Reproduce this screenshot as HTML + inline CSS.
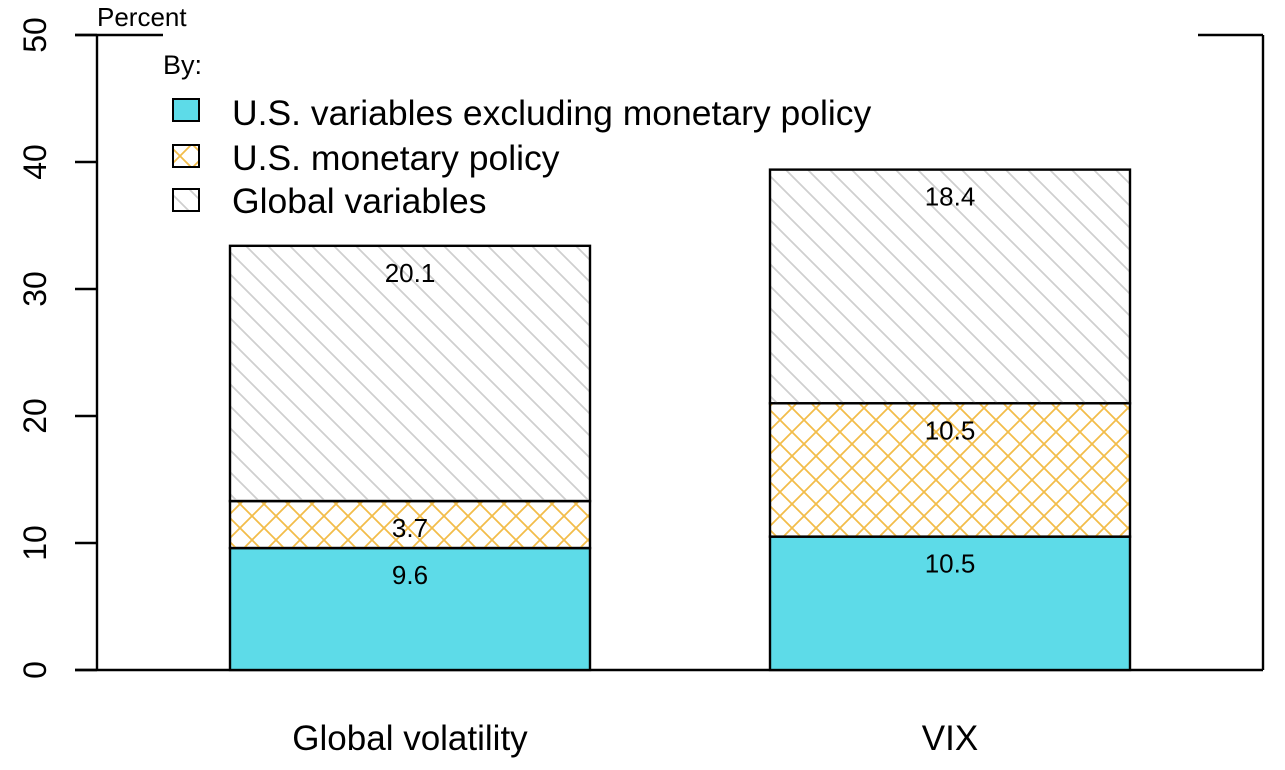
<!DOCTYPE html>
<html><head><meta charset="utf-8"><style>
body{margin:0;background:#fff}
svg{display:block;font-family:"Liberation Sans",Arial,sans-serif}
</style></head><body>
<svg id="c" width="1285" height="770">
<defs>
<pattern id="hx" patternUnits="userSpaceOnUse" width="24" height="24">
<path d="M0,0L24,24M24,0L0,24" stroke="#f2bd4a" stroke-width="1.8"/>
</pattern>
<pattern id="hd" patternUnits="userSpaceOnUse" width="22" height="22">
<path d="M-11,11L11,33M0,0L22,22M11,-11L33,11" stroke="#cfcfcf" stroke-width="1.8"/>
</pattern>
</defs>
<g id="axes"></g>
<g id="bars"></g>
<g id="legend">
<text x="163" y="74" font-size="27">By:</text>
<rect x="173" y="99" width="26" height="22" fill="#5ddbe8" stroke="#000" stroke-width="2"/>
<text x="232" y="125" font-size="35.5">U.S. variables excluding monetary policy</text>
<rect x="173" y="145" width="26" height="22" fill="url(#hx)" stroke="#000" stroke-width="2"/>
<text x="232" y="170" font-size="35.5">U.S. monetary policy</text>
<rect x="173" y="189" width="26" height="22" fill="url(#hd)" stroke="#000" stroke-width="2"/>
<text x="232" y="213" font-size="35.5">Global variables</text>
</g>
</svg>
<script>
const categories=["Global volatility","VIX"];
const usExMp=[9.6,10.5];
const usMp=[3.7,10.5];
const globalVars=[20.1,18.4];
const yTicks=[0,10,20,30,40,50];
const NS="http://www.w3.org/2000/svg";
const y=v=>670-v*12.7;
const barX=i=>230+i*540, barW=360;
function mk(p,t,a){const e=document.createElementNS(NS,t);for(const k in a)e.setAttribute(k,a[k]);p.appendChild(e);return e;}
const ax=document.getElementById('axes'), bg=document.getElementById('bars');
let l=mk(ax,'line',{x1:97,y1:35,x2:97,y2:670,stroke:'#000','stroke-width':2.4});


l=mk(ax,'line',{x1:1263,y1:35,x2:1263,y2:670,stroke:'#000','stroke-width':2.4});


l=mk(ax,'line',{x1:75,y1:670,x2:1263,y2:670,stroke:'#000','stroke-width':2.4});


l=mk(ax,'line',{x1:75,y1:35,x2:163,y2:35,stroke:'#000','stroke-width':2.4});


l=mk(ax,'line',{x1:1198,y1:35,x2:1263,y2:35,stroke:'#000','stroke-width':2.4});


yTicks.forEach(v=>{
  const t=mk(ax,'line',{x1:75,y1:y(v),x2:97,y2:y(v),stroke:'#000','stroke-width':2.4});
  
  
  const tx=mk(ax,'text',{x:0,y:0,'font-size':32,'text-anchor':'middle',transform:`translate(46,${y(v)}) rotate(-90)`});
  tx.textContent=v;
  
  
});
const pt=mk(ax,'text',{x:97,y:26,'font-size':26});
pt.textContent='Percent';


const series=[[usExMp,'#5ddbe8','us-ex-mp'],[usMp,'url(#hx)','us-mp'],[globalVars,'url(#hd)','global']];
categories.forEach((c,i)=>{
  let base=0;
  series.forEach(([arr,fill,nm])=>{
    const v=arr[i], top=base+v;
    const r=mk(bg,'rect',{x:barX(i),y:y(top),width:barW,height:y(base)-y(top),fill:fill,stroke:'#000','stroke-width':2.4});
    
    
    const t=mk(bg,'text',{x:barX(i)+barW/2,y:y(top)+36,'font-size':26,'text-anchor':'middle'});
    t.textContent=v.toFixed(1);
    
    
    base=top;
  });
  const xl=mk(bg,'text',{x:barX(i)+barW/2,y:750,'font-size':35,'text-anchor':'middle'});
  xl.textContent=c;
  
  
});
</script>
</body></html>
